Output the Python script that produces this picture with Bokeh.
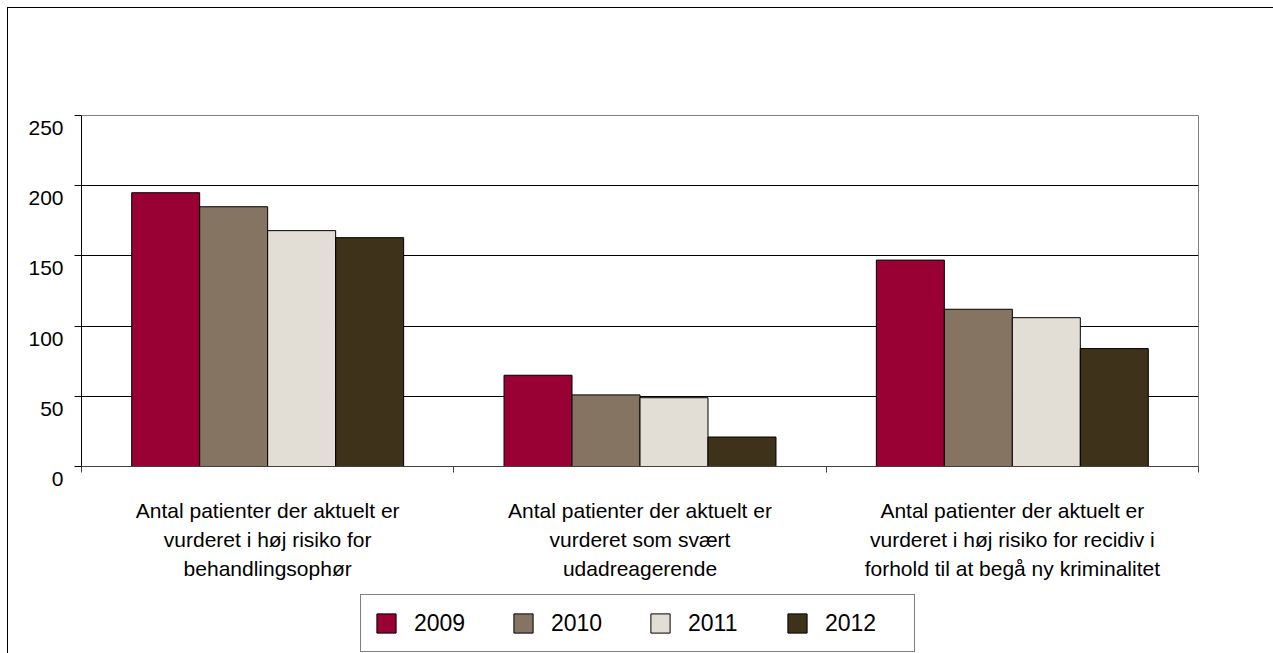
from bokeh.plotting import figure
from bokeh.models import Range1d, FixedTicker, Legend, LegendItem, ColumnDataSource
from bokeh.layouts import column
from bokeh.embed import file_html
from bokeh.resources import INLINE

categories = [
    "Antal patienter der aktuelt er\nvurderet i høj risiko for\nbehandlingsophør",
    "Antal patienter der aktuelt er\nvurderet som svært\nudadreagerende",
    "Antal patienter der aktuelt er\nvurderet i høj risiko for recidiv i\nforhold til at begå ny kriminalitet",
]
years = ["2009", "2010", "2011", "2012"]
v2009 = [195, 65, 147]
v2010 = [185, 51, 112]
v2011 = [168, 49, 106]
v2012 = [163, 21, 84]
series = [v2009, v2010, v2011, v2012]
colors = ["#990033", "#857461", "#E2DED5", "#3F321A"]
y_ticks = [0, 50, 100, 150, 200, 250]

FONT = "Liberation Sans"

p = figure(width=1265, height=580, output_backend="svg", toolbar_location=None,
           x_range=Range1d(0, len(categories)), y_range=Range1d(0, 250),
           min_border_left=73, min_border_right=75, min_border_top=107, min_border_bottom=122)
p.background_fill_color = "white"
p.border_fill_color = "white"
p.outline_line_color = "#808080"
p.outline_line_width = 1

p.xgrid.visible = False
p.ygrid.ticker = FixedTicker(ticks=y_ticks)
p.ygrid.grid_line_color = "#000000"
p.ygrid.grid_line_width = 1

p.yaxis.ticker = FixedTicker(ticks=y_ticks)
p.yaxis.major_label_overrides = {t: "\n" + str(t) for t in y_ticks}
p.yaxis.major_tick_out = 7
p.yaxis.major_tick_in = 0
p.yaxis.minor_tick_line_color = None
p.yaxis.axis_line_color = "#000000"
p.yaxis.major_tick_line_color = "#000000"
p.yaxis.major_label_standoff = 11
p.yaxis.major_label_text_font = FONT
p.yaxis.major_label_text_font_size = "21px"
p.yaxis.major_label_text_color = "#000000"
p.yaxis.major_label_text_line_height = 1.05

centers = [i + 0.5 for i in range(len(categories))]
bounds = list(range(len(categories) + 1))
p.xaxis.ticker = FixedTicker(ticks=centers, minor_ticks=bounds)
p.xaxis.major_label_overrides = {c: lab for c, lab in zip(centers, categories)}
p.xaxis.major_tick_out = 0
p.xaxis.major_tick_in = 0
p.xaxis.major_tick_line_color = None
p.xaxis.minor_tick_out = 6
p.xaxis.minor_tick_in = 0
p.xaxis.minor_tick_line_color = "#404040"
p.xaxis.axis_line_color = "#404040"
p.xaxis.major_label_standoff = 26
p.xaxis.major_label_text_font = FONT
p.xaxis.major_label_text_font_size = "21px"
p.xaxis.major_label_text_color = "#000000"
p.xaxis.major_label_text_line_height = 1.27

bar_w = 0.1826

# legend-only figure below the chart (its ranges keep the swatch bars out of view)
pl = figure(width=1265, height=65, output_backend="svg", toolbar_location=None,
            x_range=Range1d(0, 1), y_range=Range1d(1000, 1001),
            x_axis_location=None, y_axis_location=None,
            min_border_left=0, min_border_right=0, min_border_top=0, min_border_bottom=0)
pl.grid.visible = False
pl.outline_line_color = None
pl.background_fill_color = "white"
pl.border_fill_color = "white"

items = []
for k, (yr, vals, col) in enumerate(zip(years, series, colors)):
    xs = [i + 0.5 + (k - 1.5) * bar_w for i in range(len(categories))]
    src = ColumnDataSource(dict(x=xs, top=vals))
    p.vbar(x="x", top="top", width=bar_w, bottom=0, source=src,
           fill_color=col, line_color="#000000", line_width=1)
    rl = pl.vbar(x="x", top="top", width=bar_w, bottom=0, source=src,
                 fill_color=col, line_color="#000000", line_width=1)
    items.append(LegendItem(label=yr, renderers=[rl]))

legend = Legend(items=items, orientation="horizontal", location=(279, 1),
                glyph_width=24, glyph_height=24, label_standoff=16, label_width=76,
                label_height=30, spacing=21, padding=13, margin=0,
                label_text_font=FONT, label_text_font_size="23px", label_text_color="#000000",
                border_line_color="#000000", border_line_width=1,
                background_fill_color="white", background_fill_alpha=1)
pl.add_layout(legend, "center")

layout = column(p, pl, spacing=0, margin=(7, 0, 0, 7),
                styles={"border-left": "1px solid #000000", "border-top": "1px solid #000000"})

open("out.html", "w").write(file_html(layout, INLINE))
